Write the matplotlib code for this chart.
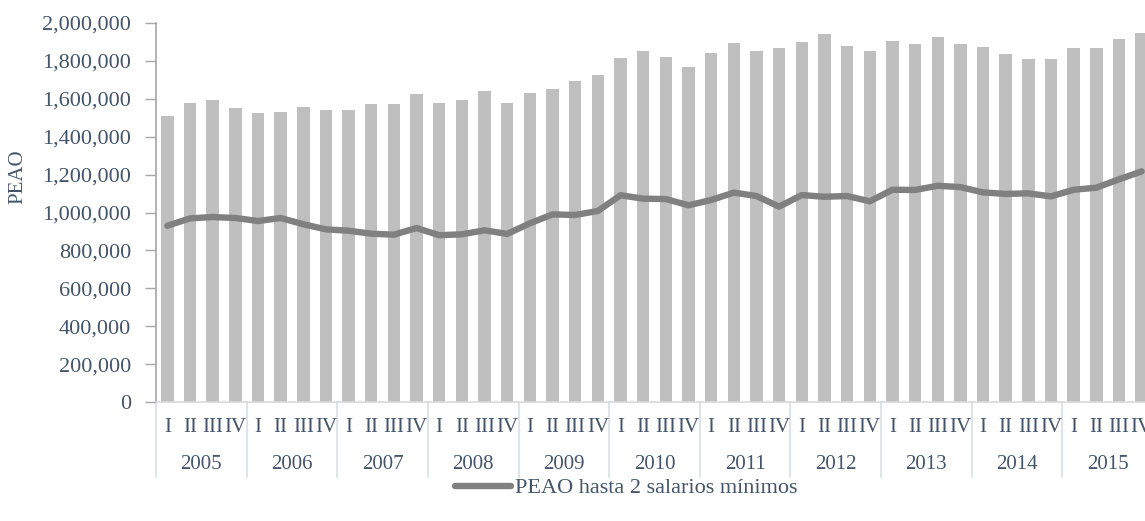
import matplotlib
matplotlib.use("Agg")
import matplotlib.pyplot as plt
import numpy as np

years = ["2005", "2006", "2007", "2008", "2009", "2010", "2011", "2012", "2013", "2014", "2015"]
quarters = ["I", "II", "III", "IV"]

peao_total = [
    1508000, 1580000, 1592000, 1553000,
    1525000, 1532000, 1558000, 1539000,
    1543000, 1571000, 1574000, 1627000,
    1580000, 1594000, 1641000, 1576000,
    1631000, 1652000, 1694000, 1726000,
    1815000, 1851000, 1821000, 1768000,
    1842000, 1894000, 1852000, 1868000,
    1898000, 1944000, 1879000, 1851000,
    1905000, 1890000, 1926000, 1887000,
    1873000, 1835000, 1810000, 1812000,
    1866000, 1866000, 1916000, 1947000,
]
peao_2sm = [
    930000, 969000, 976000, 971000,
    955000, 971000, 938000, 911000,
    904000, 888000, 883000, 918000,
    880000, 885000, 906000, 887000,
    943000, 990000, 987000, 1008000,
    1091000, 1073000, 1071000, 1038000,
    1066000, 1105000, 1087000, 1031000,
    1092000, 1083000, 1087000, 1059000,
    1120000, 1119000, 1141000, 1134000,
    1106000, 1098000, 1101000, 1085000,
    1120000, 1131000, 1175000, 1217000,
]

plt.rcParams['font.family'] = ['Liberation Serif', 'DejaVu Serif']
txt_color = '#44546A'
fs = 15
fs_big = 16

fig = plt.figure(figsize=(11.45, 5.21), dpi=100)
W, H = 1145, 521
ax = fig.add_axes([156 / W, 119 / H, 997 / W, 379 / H])

x = np.arange(len(peao_total))
ax.bar(x, peao_total, width=0.55, color='#BFBFBF', zorder=2)
line, = ax.plot(x, peao_2sm, color='#808080', linewidth=4.6, solid_joinstyle='round',
                solid_capstyle='round', zorder=3, label='PEAO hasta 2 salarios mínimos')

ax.set_xlim(-0.5, len(x) - 0.5)
ax.set_ylim(0, 2000000)
ax.set_yticks(np.arange(0, 2000001, 200000))
ax.set_yticklabels([f"{int(v):,}" for v in np.arange(0, 2000001, 200000)])
ax.tick_params(axis='y', length=8, width=1, color='#A6A6A6', labelsize=fs_big,
               labelcolor=txt_color, pad=10)
ax.set_xticks([])

for s in ['top', 'right']:
    ax.spines[s].set_visible(False)
ax.spines['left'].set_color('#A6A6A6')
ax.spines['left'].set_linewidth(1.2)
ax.spines['bottom'].set_color('#D9D9D9')
ax.spines['bottom'].set_linewidth(1.2)

tr = ax.get_xaxis_transform()
for i, xi in enumerate(x):
    ax.text(xi, -0.066, quarters[i % 4], transform=tr, ha='center', va='center',
            fontsize=fs, color=txt_color)
for j, yr in enumerate(years):
    ax.text(j * 4 + 1.5, -0.1636, yr, transform=tr, ha='center', va='center',
            fontsize=fs, color=txt_color)
for j in range(len(years) + 1):
    ax.plot([j * 4 - 0.5, j * 4 - 0.5], [0, -0.198], transform=tr, color='#D9DEE6',
            linewidth=1.2, clip_on=False, zorder=1)

fig.text(18 / W, 1 - 177 / H, 'PEAO', rotation=90, ha='center', va='center',
         fontsize=fs, color=txt_color)

fig.legend(handles=[line], loc='center', bbox_to_anchor=(626 / W, 1 - 488 / H),
           frameon=False, fontsize=fs_big, handlelength=2.5, handletextpad=0.18,
           labelcolor=txt_color)

fig.savefig('out.png', dpi=100)
